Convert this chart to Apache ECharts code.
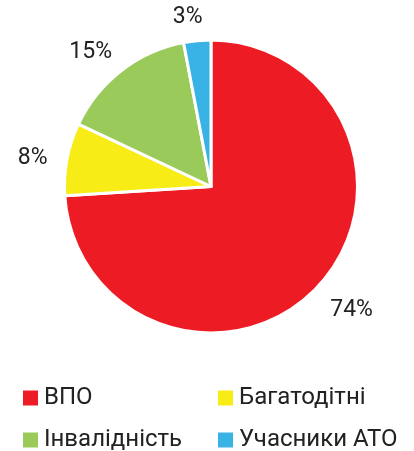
<!DOCTYPE html>
<html>
<head>
<meta charset="utf-8">
<script src="https://cdn.jsdelivr.net/npm/echarts@6/dist/echarts.min.js"></script>
<style>
html,body{margin:0;padding:0;background:#fff;}
#chart{width:414px;height:451px;}
</style>
</head>
<body>
<div id="chart"></div>
<script>
const categories = ['ВПО', 'Багатодітні', 'Інвалідність', 'Учасники АТО'];
const values = [74, 8, 15, 3];
const colors = ['#ED1C24', '#F8EC17', '#99CA5A', '#39B3E6'];
const labels = ['74%', '8%', '15%', '3%'];

const chart = echarts.init(document.getElementById('chart'), null, {renderer: 'canvas'});
const data = categories.map((c, i) => ({name: c, value: values[i], itemStyle: {color: colors[i]}}));
const legendText = {fontFamily: 'Roboto', fontSize: 24, color: '#222'};
const legendSlots = [
  {left: 21, top: 386},
  {left: 216, top: 386},
  {left: 21, top: 428},
  {left: 216, top: 428}
];
chart.setOption({
  animation: false,
  backgroundColor: '#fff',
  legend: categories.map((c, i) => ({
    left: legendSlots[i].left, top: legendSlots[i].top,
    padding: 0,
    itemWidth: 17, itemHeight: 17, itemGap: 7,
    icon: 'rect',
    data: [c],
    textStyle: legendText
  })),
  series: [{
    type: 'pie',
    center: [211, 186.5],
    radius: 146.5,
    startAngle: 90,
    clockwise: true,
    avoidLabelOverlap: false,
    itemStyle: {borderColor: '#fff', borderWidth: 3},
    label: {
      show: true,
      position: 'outside',
      fontFamily: 'Roboto',
      fontSize: 23,
      color: '#222',
      distanceToLabelLine: -8,
      formatter: p => labels[p.dataIndex]
    },
    labelLine: {show: false, length: 28, length2: 0},
    labelLayout: {dy: 4},
    emphasis: {disabled: true},
    data: data
  }]
});
</script>
</body>
</html>
